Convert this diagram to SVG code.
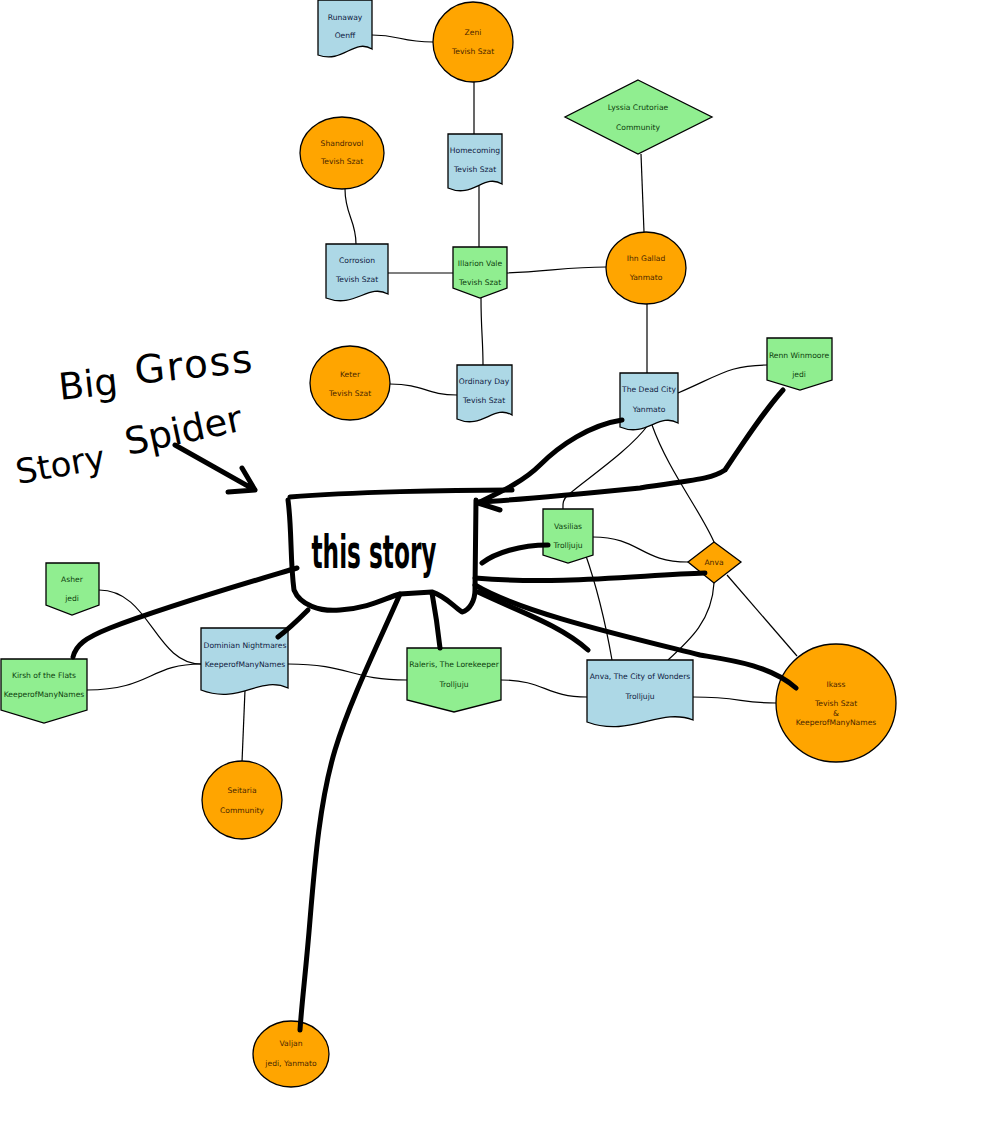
<svg xmlns="http://www.w3.org/2000/svg" width="989" height="1144" viewBox="0 0 989 1144">
<style>
.doc{fill:#add8e6;stroke:#000;stroke-width:1.3}
.grn{fill:#90ee90;stroke:#000;stroke-width:1.3}
.org{fill:#ffa500;stroke:#000;stroke-width:1.3}
text{font-family:"DejaVu Sans",sans-serif;font-size:7.6px;text-anchor:middle}
.tb{fill:#10203f}.tg{fill:#0d3d0d}.to{fill:#4a2500}
.thin{fill:none;stroke:#000;stroke-width:1.2}
.thick{fill:none;stroke:#000;stroke-width:5;stroke-linecap:round;stroke-linejoin:round}
.hand{font-family:"DejaVu Sans",sans-serif;fill:#000;text-anchor:start}
</style>
<rect width="989" height="1144" fill="#fff"/>
<g id="connectors">
<path class="thin" d="M372 35 C400 35 400 42 433 42"/>
<path class="thin" d="M474 82 L474 134"/>
<path class="thin" d="M479 186 L479 247"/>
<path class="thin" d="M345 189 C345 215 356 220 356 244"/>
<path class="thin" d="M388 273 L453 273"/>
<path class="thin" d="M507 273 C550 271 570 267 606 267"/>
<path class="thin" d="M481 298 C481 330 483 340 483 365"/>
<path class="thin" d="M390 384 C425 384 425 395 457 395"/>
<path class="thin" d="M641 154 L644 232"/>
<path class="thin" d="M647 304 L647 373"/>
<path class="thin" d="M678 393 C720 375 730 365 767 365"/>
<path class="thin" d="M648 425 C630 450 585 480 568 495 C562 500 563 505 563 509"/>
<path class="thin" d="M652 425 C668 470 700 510 714 542"/>
<path class="thin" d="M593 537 C640 537 640 562 688 562"/>
<path class="thin" d="M585 553 C598 590 605 620 612 660"/>
<path class="thin" d="M714 583 C712 620 690 640 668 660"/>
<path class="thin" d="M727 575 L797 656"/>
<path class="thin" d="M99 590 C150 590 155 664 201 664"/>
<path class="thin" d="M87 690 C150 690 150 664 201 664"/>
<path class="thin" d="M288 664 C350 664 350 680 407 680"/>
<path class="thin" d="M501 680 C545 680 545 697 587 697"/>
<path class="thin" d="M693 697 C740 697 740 703 776 703"/>
<path class="thin" d="M245 690 L242 762"/>
</g>
<g id="handwriting">
<text class="hand" x="60" y="400" font-size="37" transform="rotate(-6 60 400)" style="font-size:37px">Big</text>
<text class="hand" x="136" y="384" transform="rotate(-6 136 384)" style="font-size:39px;letter-spacing:2px">Gross</text>
<text class="hand" x="128" y="455" transform="rotate(-12 128 455)" style="font-size:37px">Spider</text>
<text class="hand" x="18" y="484" transform="rotate(-10 18 484)" style="font-size:34px">Story</text>
</g>
<g id="runaway"><path class="doc" d="M318 0 H372 V49 C354 38 343 64 318 55 Z"/><text class="tb" x="345" y="20">Runaway</text><text class="tb" x="345" y="38">Oenff</text></g>
<g id="zeni"><circle class="org" cx="473" cy="42" r="40"/><text class="to" x="473" y="35">Zeni</text><text class="to" x="473" y="54">Tevish Szat</text></g>
<g id="homecoming"><path class="doc" d="M448 134 H502 V184 C484 173 473 199 448 188 Z"/><text class="tb" x="475" y="153">Homecoming</text><text class="tb" x="475" y="172">Tevish Szat</text></g>
<g id="lyssia"><path class="grn" d="M638 80 L712 117 L638 154 L565 117 Z"/><text class="tg" x="638" y="110">Lyssia Crutoriae</text><text class="tg" x="638" y="130">Community</text></g>
<g id="shandrovol"><ellipse class="org" cx="342" cy="153" rx="42" ry="36"/><text class="to" x="342" y="146">Shandrovol</text><text class="to" x="342" y="164">Tevish Szat</text></g>
<g id="corrosion"><path class="doc" d="M326 244 H388 V294 C368 283 355 309 326 298 Z"/><text class="tb" x="357" y="263">Corrosion</text><text class="tb" x="357" y="282">Tevish Szat</text></g>
<g id="illarion"><path class="grn" d="M453 247 H507 V288 L480 298 L453 288 Z"/><text class="tg" x="480" y="266">Illarion Vale</text><text class="tg" x="480" y="285">Tevish Szat</text></g>
<g id="ihn-gallad"><ellipse class="org" cx="646" cy="268" rx="40" ry="36"/><text class="to" x="646" y="261">Ihn Gallad</text><text class="to" x="646" y="280">Yanmato</text></g>
<g id="keter"><ellipse class="org" cx="350" cy="383" rx="40" ry="37"/><text class="to" x="350" y="377">Keter</text><text class="to" x="350" y="396">Tevish Szat</text></g>
<g id="ordinary-day"><path class="doc" d="M457 365 H512 V415 C494 404 482 430 457 419 Z"/><text class="tb" x="484" y="384">Ordinary Day</text><text class="tb" x="484" y="403">Tevish Szat</text></g>
<g id="dead-city"><path class="doc" d="M620 373 H678 V423 C659 412 646 438 620 427 Z"/><text class="tb" x="649" y="392">The Dead City</text><text class="tb" x="649" y="412">Yanmato</text></g>
<g id="renn"><path class="grn" d="M767 338 H832 V380 L800 390 L767 380 Z"/><text class="tg" x="799" y="358">Renn Winmoore</text><text class="tg" x="799" y="377">jedi</text></g>
<g id="vasilias"><path class="grn" d="M543 509 H593 V555 L568 563 L543 555 Z"/><text class="tg" x="568" y="529">Vasilias</text><text class="tg" x="568" y="548">Trolljuju</text></g>
<g id="anva"><path class="org" d="M714 542 L741 562 L714 583 L688 562 Z"/><text class="to" x="714" y="565">Anva</text></g>
<g id="asher"><path class="grn" d="M46 563 H99 V605 L72 615 L46 605 Z"/><text class="tg" x="72" y="582">Asher</text><text class="tg" x="72" y="601">jedi</text></g>
<g id="kirsh"><path class="grn" d="M1 659 H87 V710 L44 723 L1 710 Z"/><text class="tg" x="44" y="678">Kirsh of the Flats</text><text class="tg" x="44" y="697">KeeperofManyNames</text></g>
<g id="dominian"><path class="doc" d="M201 628 H288 V688 C260 675 240 705 201 690 Z"/><text class="tb" x="245" y="648">Dominian Nightmares</text><text class="tb" x="245" y="667">KeeperofManyNames</text></g>
<g id="raleris"><path class="grn" d="M407 648 H501 V700 L454 712 L407 700 Z"/><text class="tg" x="454" y="667">Raleris, The Lorekeeper</text><text class="tg" x="454" y="687">Trolljuju</text></g>
<g id="anva-city"><path class="doc" d="M587 660 H693 V720 C660 707 630 738 587 722 Z"/><text class="tb" x="640" y="679">Anva, The City of Wonders</text><text class="tb" x="640" y="699">Trolljuju</text></g>
<g id="ikass"><ellipse class="org" cx="836" cy="703" rx="60" ry="59"/><text class="to" x="836" y="687">Ikass</text><text class="to" x="836" y="706">Tevish Szat</text><text class="to" x="836" y="716">&amp;</text><text class="to" x="836" y="725">KeeperofManyNames</text></g>
<g id="seitaria"><ellipse class="org" cx="242" cy="800" rx="40" ry="39"/><text class="to" x="242" y="793">Seitaria</text><text class="to" x="242" y="813">Community</text></g>
<g id="valjan"><ellipse class="org" cx="291" cy="1054" rx="38" ry="33"/><text class="to" x="291" y="1046">Valjan</text><text class="to" x="291" y="1066">jedi, Yanmato</text></g>
<g id="story-box">
<path class="thick" d="M290 497 C350 492 450 490 512 490"/>
<path class="thick" d="M288 500 C292 530 290 560 294 590 C300 605 320 612 340 610 C370 608 385 598 400 594 L432 592 C445 596 452 605 462 612 C470 610 475 600 475 590 L476 500"/>
<text x="374" y="568" font-weight="bold" textLength="125" lengthAdjust="spacingAndGlyphs" style="font-family:'DejaVu Sans Condensed',sans-serif;font-size:46px">this story</text>
</g>
<g id="story-links">
<path class="thick" d="M622 420 C590 425 560 445 540 465 C525 480 505 490 478 503 M478 503 L500 492 M478 503 L500 510"/>
<path class="thick" d="M783 390 C765 410 745 440 725 470 C710 480 690 480 640 488 C580 494 520 500 478 502"/>
<path class="thick" d="M548 545 C520 545 495 553 482 563"/>
<path class="thick" d="M705 573 C640 575 560 585 475 578"/>
<path class="thick" d="M796 688 C770 665 730 660 700 655 C620 635 520 612 475 585"/>
<path class="thick" d="M588 650 C560 625 520 612 478 592"/>
<path class="thick" d="M432 593 C436 615 438 630 440 648"/>
<path class="thick" d="M400 594 C380 640 350 700 335 750 C320 800 315 860 310 920 C306 970 302 1000 300 1030"/>
<path class="thick" d="M308 610 C298 620 290 628 278 637"/>
<path class="thick" d="M297 568 C250 582 170 605 110 628 C85 638 76 645 73 657"/>
<path class="thick" d="M175 445 L255 490 M255 490 L242 468 M255 490 L228 492"/>
</g>
</svg>
